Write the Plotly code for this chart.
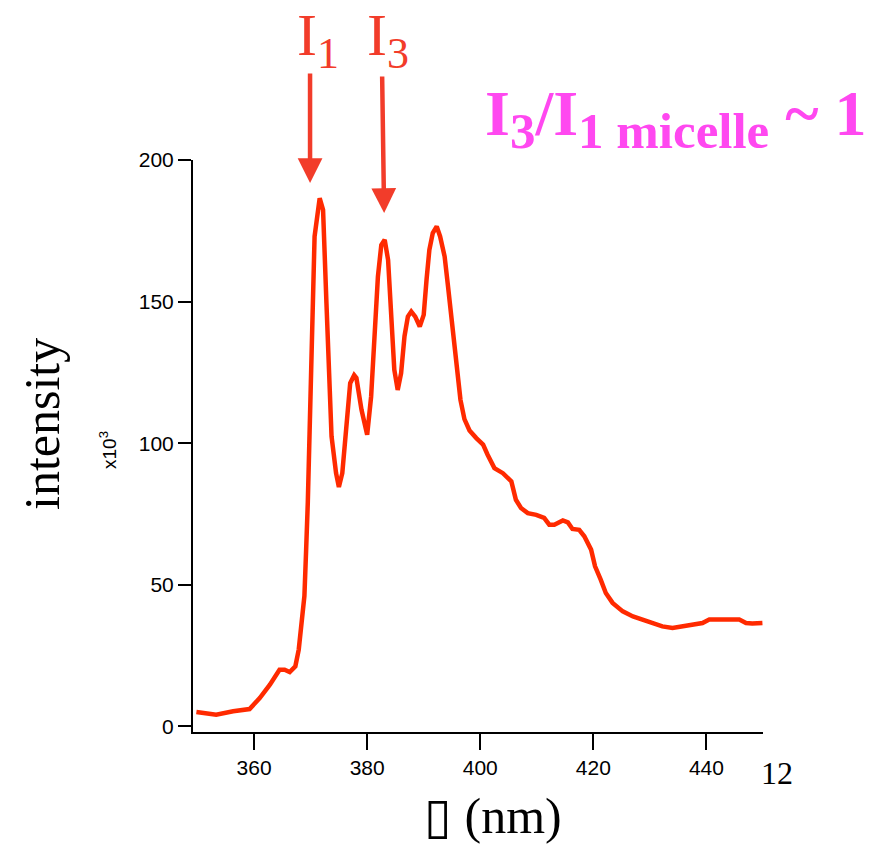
import plotly.graph_objects as go

# Emission spectrum (wavelength in nm, intensity in thousands of counts)
wavelength_nm = [
    349.8, 353.3, 356.3, 359.2, 361.0, 362.8, 364.5, 365.4, 366.3, 367.3,
    367.9, 368.4, 368.9, 369.2, 369.5, 370.1, 370.7, 371.6, 372.2, 372.8,
    373.7, 374.5, 375.0, 375.6, 376.3, 377.0, 377.7, 378.1, 379.0, 380.0,
    380.7, 381.3, 381.9, 382.5, 383.1, 383.7, 384.3, 384.8, 385.4, 386.0,
    386.6, 387.2, 387.8, 388.5, 389.3, 390.0, 390.5, 391.0, 391.6, 392.3,
    392.9, 393.7, 394.3, 394.9, 395.4, 396.0, 396.5, 397.2, 398.1, 399.3,
    400.5, 401.3, 402.5, 404.0, 405.5, 406.3, 407.2, 408.4, 409.9, 411.3,
    412.2, 413.1, 414.6, 415.5, 416.3, 417.5, 418.4, 419.6, 420.3, 421.3,
    422.2, 423.4, 425.2, 427.0, 428.7, 430.5, 432.2, 434.0, 435.8, 437.5,
    439.3, 440.5, 442.3, 444.0, 445.8, 447.0, 448.1, 449.9,
]
intensity_k = [
    5.1, 4.1, 5.3, 6.1, 10.0, 14.7, 20.0, 20.0, 19.2, 21.2,
    27.1, 35.3, 46.0, 62.0, 78.9, 125.9, 173.0, 186.5, 182.4, 149.4,
    102.4, 89.4, 84.5, 89.4, 104.7, 121.2, 124.0, 123.0, 111.8, 103.0,
    116.5, 135.3, 158.8, 170.0, 171.8, 164.7, 145.9, 125.9, 118.8, 124.7,
    137.7, 144.7, 146.5, 144.7, 141.2, 145.3, 157.7, 168.3, 174.2, 176.5,
    173.0, 165.9, 155.3, 144.7, 134.1, 123.5, 115.3, 108.5, 104.5, 101.8,
    99.5, 95.9, 91.2, 89.4, 86.5, 80.0, 77.1, 75.3, 74.7, 73.6,
    71.2, 71.2, 72.7, 72.0, 69.7, 69.4, 67.1, 62.4, 56.5, 51.8,
    47.1, 43.6, 40.6, 38.8, 37.7, 36.7, 35.3, 34.7, 35.3, 35.9,
    36.5, 37.7, 37.7, 37.9, 37.7, 36.5, 36.3, 36.5,
]

x_ticks = [360, 380, 400, 420, 440]
y_ticks = [0, 50, 100, 150, 200]

# Peak markers: (wavelength, intensity) of the arrow tips
i1_peak = (369.9, 191.9)
i3_peak = (383.0, 181.3)

LINE_RED = "#FF2A00"
LABEL_RED = "#F23C2A"
PINK = "#FF48F0"
SERIF = "Liberation Serif, Times New Roman, serif"
SANS = "Liberation Sans, Arial, Helvetica, sans-serif"

fig = go.Figure()
fig.add_trace(go.Scatter(
    x=wavelength_nm, y=intensity_k, mode="lines",
    line=dict(color=LINE_RED, width=4.5),
    showlegend=False, hoverinfo="skip",
))

PW, PH = 570.0, 572.0
L, T = 193, 160


def px(xp):
    return (xp - L) / PW


def py(yp):
    return (T + PH - yp) / PH


annotations = [
    # peak labels
    dict(text="I<sub><span style='font-size:44px'>1</span></sub>",
         x=px(318), y=py(40), xref="paper", yref="paper",
         xanchor="center", yanchor="middle", showarrow=False,
         font=dict(family=SERIF, size=60, color=LABEL_RED)),
    dict(text="I<sub><span style='font-size:44px'>3</span></sub>",
         x=px(388), y=py(40), xref="paper", yref="paper",
         xanchor="center", yanchor="middle", showarrow=False,
         font=dict(family=SERIF, size=60, color=LABEL_RED)),
    # arrows down to the peaks
    dict(text="", x=i1_peak[0], y=i1_peak[1], xref="x", yref="y",
         ax=0, ay=-111, showarrow=True, arrowhead=2, arrowsize=1.1,
         arrowwidth=4.5, arrowcolor=LABEL_RED, standoff=0),
    dict(text="", x=i3_peak[0], y=i3_peak[1], xref="x", yref="y",
         ax=-2, ay=-138, showarrow=True, arrowhead=2, arrowsize=1.1,
         arrowwidth=4.5, arrowcolor=LABEL_RED, standoff=0),
    # ratio note
    dict(text="<b>I<sub><span style='font-size:51px'>3</span></sub>/I"
              "<sub><span style='font-size:51px'>1 micelle</span></sub> ~ 1</b>",
         x=px(483), y=py(118), xref="paper", yref="paper",
         xanchor="left", yanchor="middle", showarrow=False,
         font=dict(family=SERIF, size=64, color=PINK)),
    # axis titles
    dict(text="intensity", x=px(42), y=py(424), xref="paper", yref="paper",
         xanchor="center", yanchor="middle", showarrow=False, textangle=-90,
         font=dict(family=SERIF, size=50, color="black")),
    dict(text="x10<sup>3</sup>", x=px(108), y=py(450), xref="paper", yref="paper",
         xanchor="center", yanchor="middle", showarrow=False, textangle=-90,
         font=dict(family=SANS, size=19, color="black")),
    dict(text="\u25AF (nm)", x=px(493), y=py(816), xref="paper", yref="paper",
         xanchor="center", yanchor="middle", showarrow=False,
         font=dict(family=SERIF, size=50, color="black")),
    dict(text="12", x=px(777), y=py(773), xref="paper", yref="paper",
         xanchor="center", yanchor="middle", showarrow=False,
         font=dict(family=SERIF, size=32, color="black")),
]

fig.update_layout(
    width=872, height=846,
    margin=dict(l=L, r=872 - L - int(PW), t=T, b=846 - T - int(PH), pad=0),
    paper_bgcolor="white", plot_bgcolor="white",
    annotations=annotations,
    xaxis=dict(
        range=[349.2, 450], tickvals=x_ticks, ticktext=[str(v) for v in x_ticks],
        showgrid=False, zeroline=False, showline=True, linecolor="black",
        linewidth=2, ticks="outside", ticklen=16, tickwidth=1.5,
        tickcolor="black", tickfont=dict(family=SANS, size=21, color="black"),
    ),
    yaxis=dict(
        range=[-2, 200], tickvals=y_ticks, ticktext=[str(v) for v in y_ticks],
        showgrid=False, zeroline=False, showline=True, linecolor="black",
        linewidth=2, ticks="outside", ticklen=13, tickwidth=1.5,
        tickcolor="black", tickfont=dict(family=SANS, size=21, color="black"),
    ),
)

fig.write_html("out.html")
